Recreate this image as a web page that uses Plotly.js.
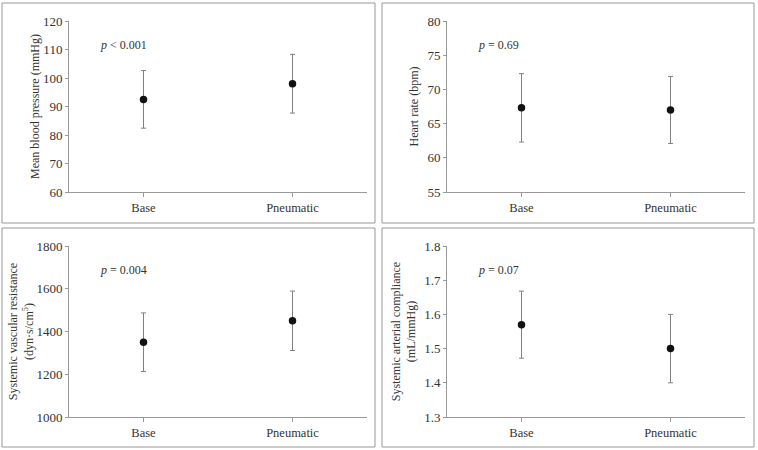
<!DOCTYPE html>
<html>
<head>
<meta charset="utf-8">
<script src="https://cdn.plot.ly/plotly-3.0.1.min.js"></script>
<style>html,body{margin:0;padding:0;background:#fff;}</style>
</head>
<body>
<div id="chart" style="width:758px;height:450px;"></div>
<script>
// Data
const categories = ['Base', 'Pneumatic'];

const mbpMean = [92.5, 98.0];
const mbpErr = [10.1, 10.3];

const hrMean = [67.3, 67.0];
const hrErr = [5.0, 4.9];

const svrMean = [1350, 1450];
const svrErr = [137, 139];

const sacMean = [1.57, 1.50];
const sacErr = [0.098, 0.10];

const pLabels = ['<i>p</i> &lt; 0.001', '<i>p</i> = 0.69', '<i>p</i> = 0.004', '<i>p</i> = 0.07'];

const yTitles = [
  'Mean blood pressure (mmHg)',
  'Heart rate (bpm)',
  'Systemic vascular resistance<br>(dyn·s/cm<sup>5</sup>)',
  'Systemic arterial compliance<br>(mL/mmHg)'
];
const yRanges = [[60, 120], [55, 80], [1000, 1800], [1.3, 1.8]];
const yDtick = [10, 5, 200, 0.1];

const W = 758, H = 450;
const FONT = '"Liberation Serif", "Times New Roman", serif';
const axisColor = '#999';
const textColor = '#333';

const series = [[mbpMean, mbpErr], [hrMean, hrErr], [svrMean, svrErr], [sacMean, sacErr]];

// panel geometry in pixels
const panels = [
  {x0: 69, x1: 367, yTop: 21, yBot: 192, box: [2, 3, 375, 223], px: 98, py: 45, so: 0},
  {x0: 447, x1: 745, yTop: 21, yBot: 192, box: [382, 3, 754, 223], px: 476, py: 45, so: 6},
  {x0: 69, x1: 367, yTop: 246, yBot: 417, box: [2, 228, 375, 447], px: 98, py: 270, so: 0},
  {x0: 447, x1: 745, yTop: 246, yBot: 417, box: [382, 228, 754, 447], px: 476, py: 270, so: 5}
];

const traces = [];
const layout = {
  width: W, height: H,
  margin: {l: 0, r: 0, t: 0, b: 0},
  paper_bgcolor: '#fff', plot_bgcolor: '#fff',
  showlegend: false,
  font: {family: FONT, color: textColor, size: 13},
  shapes: [], annotations: []
};

panels.forEach((p, i) => {
  const n = i + 1;
  const xa = n === 1 ? 'x' : 'x' + n;
  const ya = n === 1 ? 'y' : 'y' + n;
  traces.push({
    type: 'scatter', mode: 'markers',
    x: categories, y: series[i][0],
    xaxis: xa, yaxis: ya,
    marker: {color: '#111', size: 7.5},
    error_y: {type: 'data', array: series[i][1], visible: true, color: '#808080', thickness: 1, width: 2.5},
    hoverinfo: 'skip'
  });
  const xKey = n === 1 ? 'xaxis' : 'xaxis' + n;
  const yKey = n === 1 ? 'yaxis' : 'yaxis' + n;
  layout[xKey] = {
    domain: [p.x0 / W, p.x1 / W],
    anchor: ya,
    type: 'category',
    range: [-0.5, 1.5],
    showgrid: false, zeroline: false,
    showline: true, linecolor: axisColor, linewidth: 1,
    ticks: 'outside', ticklen: 4, tickcolor: axisColor,
    tickfont: {family: FONT, size: 12.5, color: textColor},
    fixedrange: true
  };
  layout[yKey] = {
    domain: [1 - p.yBot / H, 1 - p.yTop / H],
    anchor: xa,
    range: yRanges[i],
    dtick: yDtick[i],
    tick0: yRanges[i][0],
    showgrid: false, zeroline: false,
    showline: true, linecolor: axisColor, linewidth: 1,
    ticks: 'outside', ticklen: 3, tickcolor: axisColor,
    tickfont: {family: FONT, size: 13, color: textColor},
    tickformat: i === 3 ? '.1f' : 'd',
    title: {text: yTitles[i], font: {family: FONT, size: 12, color: textColor}, standoff: p.so},
    fixedrange: true
  };
  const b = p.box;
  layout.shapes.push({
    type: 'rect', xref: 'paper', yref: 'paper',
    x0: b[0] / W, x1: b[2] / W, y0: 1 - b[3] / H, y1: 1 - b[1] / H,
    line: {color: axisColor, width: 1}
  });
  layout.annotations.push({
    xref: 'paper', yref: 'paper',
    x: p.px / W, y: 1 - p.py / H,
    xanchor: 'left', yanchor: 'middle',
    text: pLabels[i], showarrow: false,
    font: {family: FONT, size: 12, color: textColor}
  });
});

Plotly.newPlot('chart', traces, layout, {displayModeBar: false, staticPlot: true});
</script>
</body>
</html>
